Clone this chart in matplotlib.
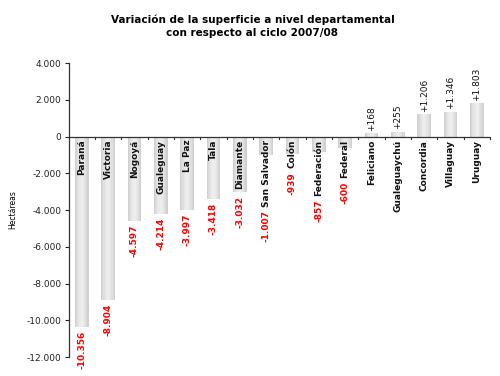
import matplotlib
matplotlib.use("Agg")
import matplotlib.pyplot as plt
import numpy as np
from matplotlib.ticker import FuncFormatter

categories = ["Paraná", "Victoria", "Nogoyá", "Gualeguay", "La Paz", "Tala", "Diamante",
              "San Salvador", "Colón", "Federación", "Federal", "Feliciano",
              "Gualeguaychú", "Concordia", "Villaguay", "Uruguay"]
values = [-10356, -8904, -4597, -4214, -3997, -3418, -3032, -1007, -939, -857, -600,
          168, 255, 1206, 1346, 1803]
title = "Variación de la superficie a nivel departamental\ncon respecto al ciclo 2007/08"
ylabel = "Hectáreas"

def fmt_thousands(v):
    s = f"{abs(int(round(v))):,}".replace(",", ".")
    return ("-" if v < 0 else "") + s

fig = plt.figure(figsize=(5.0, 3.76), dpi=100)
ax = fig.add_axes([0.137, 0.0505, 0.843, 0.7819])
x = np.arange(len(categories))
width = 0.52
nsl = 12
offs = np.linspace(-width / 2, width / 2, nsl + 1)
for k in range(nsl):
    c = (offs[k] + offs[k + 1]) / 2
    t = abs(c) / (width / 2)
    g = 0.93 - 0.13 * t ** 1.6
    ax.bar(x + c, values, width=offs[k + 1] - offs[k], color=(g, g, g), linewidth=0, zorder=2)

ax.set_xlim(-0.5, len(categories) - 0.5)
ax.set_ylim(-12000, 4000)
ax.set_yticks(np.arange(-12000, 4001, 2000))
ax.yaxis.set_major_formatter(FuncFormatter(lambda v, p: fmt_thousands(v)))
ax.tick_params(axis="y", labelsize=6.5, length=3, width=0.8, pad=2, colors="#222222")
ax.set_xticks([])
for s in ["top", "right", "bottom"]:
    ax.spines[s].set_visible(False)
ax.spines["left"].set_linewidth(0.9)
ax.spines["left"].set_color("#333333")
ax.axhline(0, color="#333333", lw=0.9, zorder=3)
for b in np.arange(-0.5, len(categories) - 0.4, 1.0):
    ax.plot([b, b], [0, -120], color="#333333", lw=0.8, zorder=3, clip_on=False)

ax.set_ylabel(ylabel, fontsize=5.5, labelpad=7)
fig.suptitle(title, fontsize=7.5, fontweight="bold", y=0.962, x=0.505, linespacing=1.45)

fig.canvas.draw()
renderer = fig.canvas.get_renderer()
inv = ax.transData.inverted()
pad_top = 170
for xi, cat, v in zip(x, categories, values):
    t = ax.text(xi, -pad_top, cat, rotation=90, ha="center", va="top",
                fontsize=6.5, fontweight="bold", color="#111111", zorder=4)
    lbl = fmt_thousands(v) if v < 0 else "+" + fmt_thousands(v)
    if v < 0:
        bb = t.get_window_extent(renderer)
        ybot = inv.transform((0, bb.y0))[1]
        ypos = min(v, ybot) - 200
        ax.text(xi, ypos, lbl, rotation=90, ha="center", va="top", fontsize=6.5,
                fontweight="bold", color="#ff0000", zorder=4)
    else:
        ax.text(xi, v + 150, lbl, rotation=90, ha="center", va="bottom", fontsize=6.5,
                color="#111111", zorder=4)

fig.savefig("out.png", dpi=100, facecolor="white")
